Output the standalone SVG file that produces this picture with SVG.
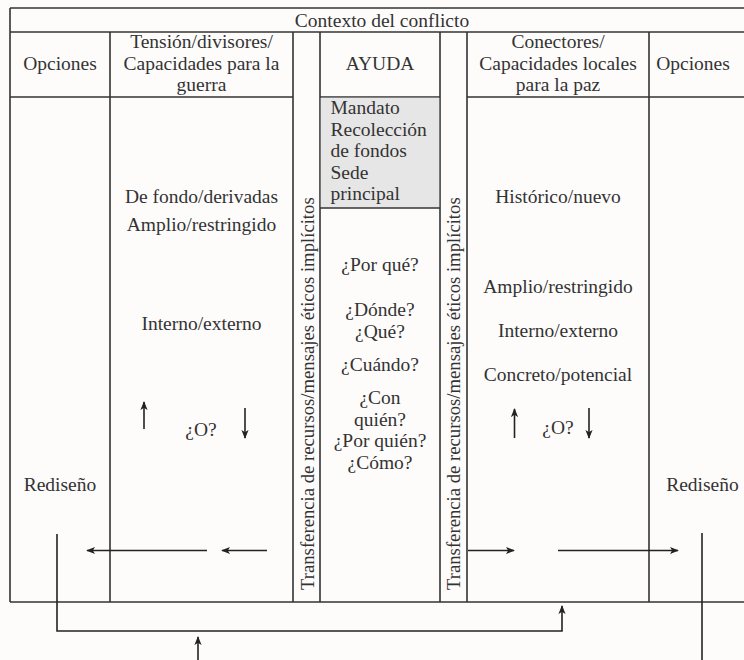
<svg xmlns="http://www.w3.org/2000/svg" width="744" height="660" viewBox="0 0 744 660">
<defs>
  <marker id="ah" viewBox="0 0 10 10" refX="9" refY="5" markerWidth="9" markerHeight="9" markerUnits="userSpaceOnUse" orient="auto">
    <path d="M0,1 L10,5 L0,9 L2.5,5 z" fill="#222"/>
  </marker>
</defs>
<rect width="744" height="660" fill="#fdfcfb"/>

<g id="frame" stroke="#333" stroke-width="1.6" fill="none">
  <path d="M10,8 H744 M10,32 H744 M10,602 H744 M10,8 V602"/>
  <path d="M110,32 V602 M293,32 V602 M320,32 V602 M440,32 V602 M467,32 V602 M649,32 V602"/>
  <path d="M10,97 H293 M320,97 H440 M467,97 H744"/>
</g>

<g id="contexto" font-family="Liberation Serif" font-size="19.5" fill="#333" text-anchor="middle">
  <text x="382" y="27" style="font-family:'Liberation Serif',serif">Contexto del conflicto</text>
</g>

<g id="opciones-izq" font-family="Liberation Serif" font-size="19.5" fill="#333" text-anchor="middle">
  <text x="60" y="70" style="font-family:'Liberation Serif',serif">Opciones</text>
  <text x="60" y="491" style="font-family:'Liberation Serif',serif">Rediseño</text>
</g>

<g id="tension" font-family="Liberation Serif" font-size="19.5" fill="#333" text-anchor="middle">
  <text x="201.5" y="48" style="font-family:'Liberation Serif',serif">Tensión/divisores/</text>
  <text x="201.5" y="70" style="font-family:'Liberation Serif',serif">Capacidades para la</text>
  <text x="201.5" y="91" style="font-family:'Liberation Serif',serif">guerra</text>
  <text x="201.5" y="203" style="font-family:'Liberation Serif',serif">De fondo/derivadas</text>
  <text x="201.5" y="231" style="font-family:'Liberation Serif',serif">Amplio/restringido</text>
  <text x="201.5" y="330" style="font-family:'Liberation Serif',serif">Interno/externo</text>
  <text x="201" y="436" style="font-family:'Liberation Serif',serif">¿O?</text>
</g>

<g id="transferencia-izq" font-family="Liberation Serif" font-size="18.7" fill="#333">
  <text transform="translate(313.5,590) rotate(-90)" style="font-family:'Liberation Serif',serif">Transferencia de recursos/mensajes éticos implícitos</text>
</g>

<g id="ayuda" font-family="Liberation Serif" font-size="19.5" fill="#333">
  <text x="380" y="70" text-anchor="middle" style="font-family:'Liberation Serif',serif">AYUDA</text>
  <rect x="320.8" y="97.8" width="118.4" height="110" fill="#e6e6e6"/>
  <path d="M320,208 H440" stroke="#333" stroke-width="1.6" fill="none"/>
  <text x="330.5" y="114" style="font-family:'Liberation Serif',serif">Mandato</text>
  <text x="330.5" y="135.5" style="font-family:'Liberation Serif',serif">Recolección</text>
  <text x="330.5" y="157" style="font-family:'Liberation Serif',serif">de fondos</text>
  <text x="330.5" y="178.5" style="font-family:'Liberation Serif',serif">Sede</text>
  <text x="330.5" y="200" style="font-family:'Liberation Serif',serif">principal</text>
  <g text-anchor="middle">
    <text x="380" y="271" style="font-family:'Liberation Serif',serif">¿Por qué?</text>
    <text x="380" y="316" style="font-family:'Liberation Serif',serif">¿Dónde?</text>
    <text x="380" y="338" style="font-family:'Liberation Serif',serif">¿Qué?</text>
    <text x="380" y="371" style="font-family:'Liberation Serif',serif">¿Cuándo?</text>
    <text x="380" y="404" style="font-family:'Liberation Serif',serif">¿Con</text>
    <text x="380" y="425.5" style="font-family:'Liberation Serif',serif">quién?</text>
    <text x="380" y="447" style="font-family:'Liberation Serif',serif">¿Por quién?</text>
    <text x="380" y="468.5" style="font-family:'Liberation Serif',serif">¿Cómo?</text>
  </g>
</g>

<g id="transferencia-der" font-family="Liberation Serif" font-size="18.7" fill="#333">
  <text transform="translate(460,590) rotate(-90)" style="font-family:'Liberation Serif',serif">Transferencia de recursos/mensajes éticos implícitos</text>
</g>

<g id="conectores" font-family="Liberation Serif" font-size="19.5" fill="#333" text-anchor="middle">
  <text x="558" y="48" style="font-family:'Liberation Serif',serif">Conectores/</text>
  <text x="558" y="70" style="font-family:'Liberation Serif',serif">Capacidades locales</text>
  <text x="558" y="91" style="font-family:'Liberation Serif',serif">para la paz</text>
  <text x="558" y="203" style="font-family:'Liberation Serif',serif">Histórico/nuevo</text>
  <text x="558" y="293" style="font-family:'Liberation Serif',serif">Amplio/restringido</text>
  <text x="558" y="337" style="font-family:'Liberation Serif',serif">Interno/externo</text>
  <text x="558" y="381" style="font-family:'Liberation Serif',serif">Concreto/potencial</text>
  <text x="558" y="434" style="font-family:'Liberation Serif',serif">¿O?</text>
</g>

<g id="opciones-der" font-family="Liberation Serif" font-size="19.5" fill="#333" text-anchor="middle">
  <text x="693" y="70" style="font-family:'Liberation Serif',serif">Opciones</text>
  <text x="702.5" y="491" style="font-family:'Liberation Serif',serif">Rediseño</text>
</g>

<g id="connectors" stroke="#222" stroke-width="1.6" fill="none">
  <path marker-end="url(#ah)" d="M144,429 V402"/>
  <path marker-end="url(#ah)" d="M245,408 V438"/>
  <path marker-end="url(#ah)" d="M514.5,438 V409"/>
  <path marker-end="url(#ah)" d="M589,408 V438"/>
  <path marker-end="url(#ah)" d="M267,550.5 H222"/>
  <path marker-end="url(#ah)" d="M207,550.5 H87"/>
  <path marker-end="url(#ah)" d="M468,550.5 H514"/>
  <path marker-end="url(#ah)" d="M558,550.5 H678"/>
  <path marker-end="url(#ah)" d="M57,534 V631 H562 V606"/>
  <path marker-end="url(#ah)" d="M198,660 V637"/>
  <path d="M702,533 V660"/>
</g>
</svg>
